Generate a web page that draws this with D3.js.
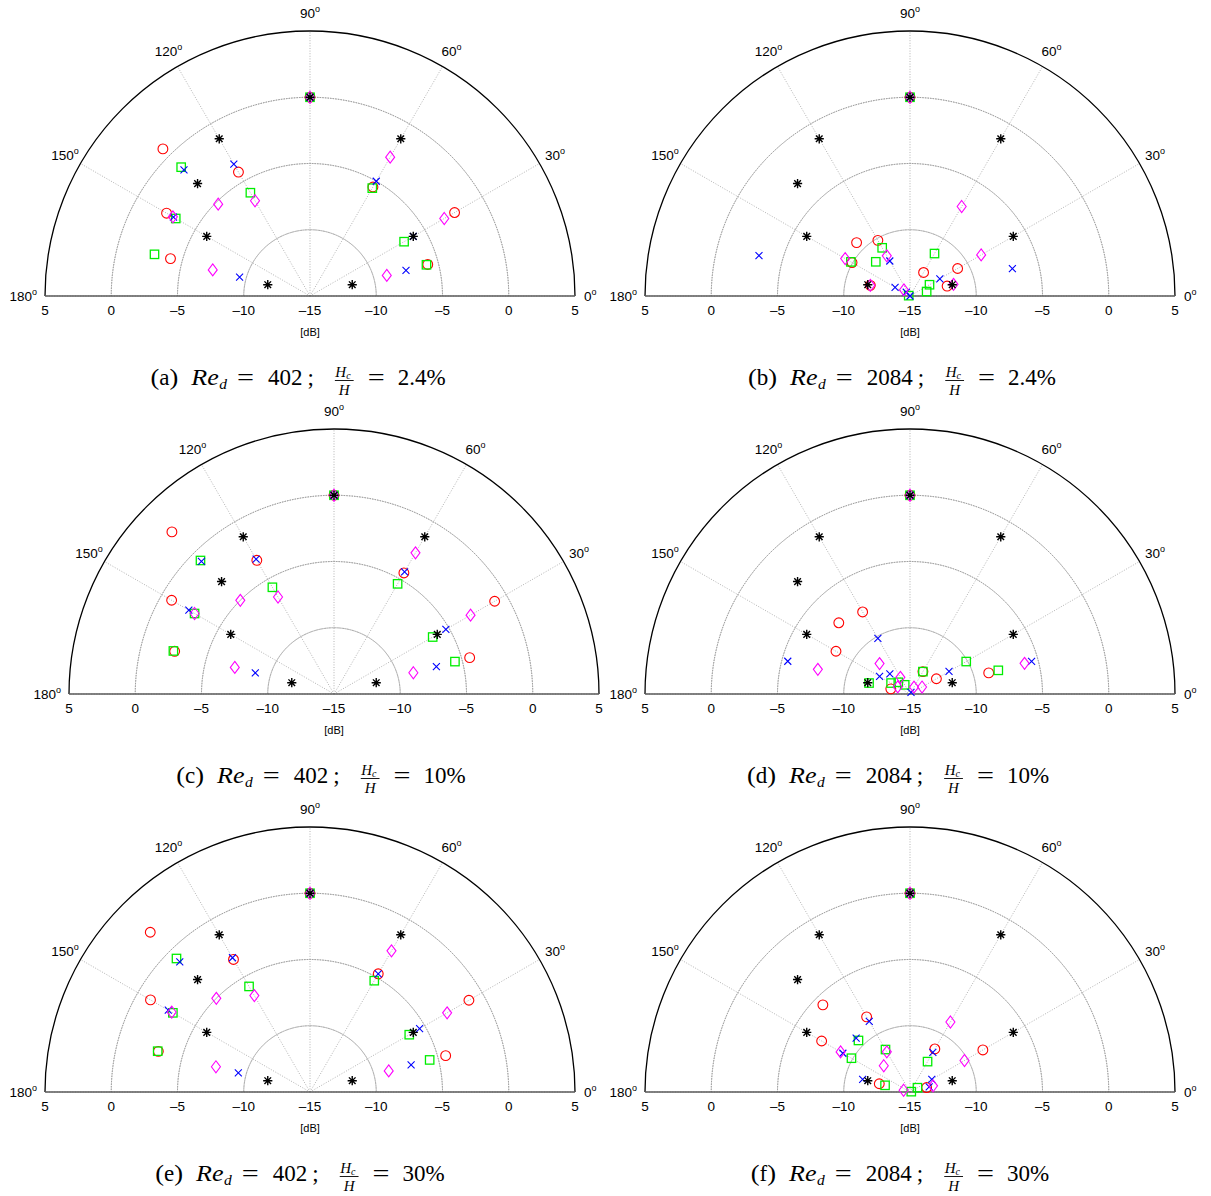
<!DOCTYPE html>
<html>
<head>
<meta charset="utf-8">
<script src="https://cdn.jsdelivr.net/npm/d3@7"></script>
<style>
  html, body { margin: 0; padding: 0; background: #fff; }
  svg { display: block; }
</style>
</head>
<body>
<svg id="chart" width="1211" height="1196"></svg>
<script>
// ---------------- DATA ----------------
const angles = [15, 30, 60, 90, 120, 135, 150, 165];           // measurement angles (deg)
const gridAngles = [0, 30, 60, 90, 120, 150, 180];              // spokes / angle labels
const gridRings = [-10, -5, 0];                                  // dotted rings (dB)
const rMin = -15, rMax = 5;
const tickValues = [5, 0, -5, -10, -15, -10, -5, 0, 5];
const tickSides  = [-1, -1, -1, -1, 0, 1, 1, 1, 1];
const tickLabels = ["5", "0", "\u20135", "\u201310", "\u201315", "\u201310", "\u20135", "0", "5"];

// reference (black asterisks), identical in every panel
const refLevels = [-11.7, -6.0, -1.3, 0, -1.3, -3.0, -6.0, -11.7];

// panel (a) Re_d = 402, Hc/H = 2.4%
const aRed     = [-5.8, -2.4, -5.5, 0, -4.2, 0.7, -2.5, -4.1];
const aGreen   = [-5.9, -6.8, -5.6, 0, -6.0, -1.25, -3.3, -2.85];
const aBlue    = [-7.5, -6.0, -5.0, 0, -3.5, -1.55, -3.1, -9.5];
const aMagenta = [-9.0, -3.3, -2.9, 0, -6.7, -5.2, -3.05, -7.4];
// panel (b) Re_d = 2084, Hc/H = 2.4%
const bRed     = [-12.1, -10.85, -12.95, 0, -10.15, -9.3, -9.95, -11.9];
const bGreen   = [-13.7, -13.3, -11.3, 0, -10.8, -11.35, -9.85, -14.9];
const bBlue    = [-7.0, -12.4, -15.0, 0, -11.95, -14.6, -13.7, -3.2];
const bMagenta = [-11.6, -8.8, -7.2, 0, -11.5, -14.35, -9.35, -11.9];
// panel (c) Re_d = 402, Hc/H = 10%
const cRed     = [-4.4, -1.0, -4.45, 0, -3.35, 2.3, -0.85, -2.55];
const cGreen   = [-5.55, -6.4, -5.4, 0, -5.7, -0.75, -2.85, -2.45];
const cBlue    = [-7.0, -5.25, -4.35, 0, -3.25, -0.85, -2.35, -8.85];
const cMagenta = [-8.8, -3.1, -2.7, 0, -6.55, -5.0, -2.85, -7.25];
// panel (d) Re_d = 2084, Hc/H = 10%
const dRed     = [-8.85, -12.7, -13.05, 0, -7.85, -7.4, -8.55, -13.5];
const dGreen   = [-8.1, -10.1, -13.05, 0, -14.2, -13.75, -13.35, -11.8];
const dBlue    = [-5.5, -11.6, -14.85, 0, -10.15, -12.85, -12.35, -5.45];
const dMagenta = [-6.05, -13.95, -14.4, 0, -13.55, -11.75, -13.93, -7.8];
// panel (e) Re_d = 402, Hc/H = 30%
const eRed     = [-4.4, -1.15, -4.7, 0, -3.45, 2.05, -1.1, -3.15];
const eGreen   = [-5.65, -6.35, -5.3, 0, -5.8, -0.75, -3.05, -3.1];
const eBlue    = [-7.1, -5.45, -4.7, 0, -3.3, -1.1, -2.65, -9.4];
const eMagenta = [-8.85, -3.05, -2.7, 0, -6.6, -5.0, -2.95, -7.65];
// panel (f) Re_d = 2084, Hc/H = 30%
const fRed     = [-13.7, -8.65, -11.25, 0, -8.45, -5.7, -7.3, -12.6];
const fGreen   = [-14.9, -14.35, -12.35, 0, -11.3, -9.5, -9.9, -13.05];
const fBlue    = [-13.5, -13.1, -11.55, 0, -8.85, -9.25, -9.15, -11.3];
const fMagenta = [-13.2, -10.25, -8.9, 0, -11.5, -12.2, -8.95, -14.5];

const panelLetters = ["a", "b", "c", "d", "e", "f"];
const panelRe      = ["402", "2084", "402", "2084", "402", "2084"];
const panelPct     = ["2.4", "2.4", "10", "10", "30", "30"];
const panelSeries  = [
  [aRed, aGreen, aBlue, aMagenta],
  [bRed, bGreen, bBlue, bMagenta],
  [cRed, cGreen, cBlue, cMagenta],
  [dRed, dGreen, dBlue, dMagenta],
  [eRed, eGreen, eBlue, eMagenta],
  [fRed, fGreen, fBlue, fMagenta]
];

// ---------------- LAYOUT ----------------
const R = 265;
const layout = [
  {cx: 310, cy: 296, capX: 298, capY: 385, zeroLabel: true},
  {cx: 910, cy: 296, capX: 902, capY: 385, zeroLabel: true},
  {cx: 334, cy: 694, capX: 321, capY: 783, zeroLabel: false},  // hidden under (d) in the original
  {cx: 910, cy: 694, capX: 898, capY: 783, zeroLabel: true},
  {cx: 310, cy: 1092, capX: 300, capY: 1181, zeroLabel: true},
  {cx: 910, cy: 1092, capX: 900, capY: 1181, zeroLabel: true}
];
const seriesStyle = [
  {type: "circle",  color: "#ff0000"},
  {type: "square",  color: "#00ee00"},
  {type: "cross",   color: "#0000ff"},
  {type: "diamond", color: "#ff00ff"}
];
const sansFont = "'Liberation Sans', Arial, Helvetica, sans-serif";
const serifFont = "'Liberation Serif', 'Times New Roman', serif";

const svg = d3.select("#chart");
const rScale = d3.scaleLinear().domain([rMin, rMax]).range([0, R]);
const toRad = d => d * Math.PI / 180;
const px = (ang, v) => rScale(v) * Math.cos(toRad(ang));
const py = (ang, v) => -rScale(v) * Math.sin(toRad(ang));

function drawMarker(g, type, color, x, y) {
  if (type === "circle") {
    g.append("circle").attr("cx", x).attr("cy", y).attr("r", 4.9)
      .attr("fill", "none").attr("stroke", color).attr("stroke-width", 1.1);
  } else if (type === "square") {
    g.append("rect").attr("x", x - 4.2).attr("y", y - 4.2).attr("width", 8.4).attr("height", 8.4)
      .attr("fill", "none").attr("stroke", color).attr("stroke-width", 1.3);
  } else if (type === "cross") {
    const s = 3.5;
    g.append("path").attr("d", `M${x - s},${y - s}L${x + s},${y + s}M${x - s},${y + s}L${x + s},${y - s}`)
      .attr("stroke", color).attr("stroke-width", 1.1).attr("fill", "none");
  } else if (type === "diamond") {
    const w = 4.5, h = 6.0;
    g.append("path").attr("d", `M${x},${y - h}L${x + w},${y}L${x},${y + h}L${x - w},${y}Z`)
      .attr("fill", "none").attr("stroke", color).attr("stroke-width", 1.1);
  } else if (type === "asterisk") {
    const s = 4.6, d = s * 0.72;
    g.append("path").attr("d",
      `M${x},${y - s}L${x},${y + s}M${x - s},${y}L${x + s},${y}M${x - d},${y - d}L${x + d},${y + d}M${x - d},${y + d}L${x + d},${y - d}`)
      .attr("stroke", color).attr("stroke-width", 1.4).attr("fill", "none");
  }
}

function drawCaption(g, i, cx, by) {
  const cap = g.append("g");
  let x = 0;
  const put = (txt, size, italic, dy, gapAfter, len) => {
    const t = cap.append("text").attr("x", x).attr("y", by + dy)
      .attr("font-family", serifFont).attr("font-size", size)
      .attr("font-style", italic ? "italic" : "normal").attr("fill", "#000").text(txt);
    let w = t.node().getComputedTextLength();
    if (len) { t.attr("textLength", len).attr("lengthAdjust", "spacingAndGlyphs"); w = len; }
    x += w + gapAfter;
    return t;
  };
  put("(", 23, false, 0, 0, 8.8);
  put(panelLetters[i], 23, false, 0, 0);
  put(")", 23, false, 0, 13, 8.8);
  put("Re", 23, true, 0, 0.5, 27.5);
  put("d", 15.5, true, 4, 10);
  put("=", 23, false, 0, 14, 17);
  put(panelRe[i], 23, false, 0, 5);
  put(";", 23, false, 0, 21);
  // fraction H_c / H
  const fx = x;
  const num = cap.append("text").attr("x", fx + 0.5).attr("y", by - 8.5)
    .attr("font-family", serifFont).attr("font-size", 15).attr("font-style", "italic");
  num.append("tspan").text("H");
  num.append("tspan").attr("font-size", 10).attr("dy", 2).text("c");
  const numW = num.node().getComputedTextLength() + 1.5;
  const den = cap.append("text").attr("y", by + 9.5)
    .attr("font-family", serifFont).attr("font-size", 15).attr("font-style", "italic").text("H");
  const denW = den.node().getComputedTextLength();
  const fw = Math.max(numW, denW) + 2;
  den.attr("x", fx + (fw - denW) / 2);
  cap.append("line").attr("x1", fx).attr("x2", fx + fw).attr("y1", by - 4.5).attr("y2", by - 4.5)
    .attr("stroke", "#000").attr("stroke-width", 0.9);
  x = fx + fw + 14;
  put("=", 23, false, 0, 13, 17);
  put(`${panelPct[i]}%`, 23, false, 0, 0);
  const total = x;
  cap.attr("transform", `translate(${cx - total / 2},0)`);
}

layout.forEach((L, i) => {
  const g = svg.append("g").attr("transform", `translate(${L.cx},${L.cy})`);
  const grid = g.append("g");

  // dotted rings
  gridRings.forEach(v => {
    const r = rScale(v);
    grid.append("path")
      .attr("d", d3.arc()({innerRadius: r, outerRadius: r, startAngle: -Math.PI / 2, endAngle: Math.PI / 2}))
      .attr("fill", "none").attr("stroke", "#8c8c8c").attr("stroke-width", 1)
      .attr("stroke-dasharray", "1,1.6");
  });
  // spokes
  gridAngles.forEach(a => {
    grid.append("line").attr("x1", 0).attr("y1", 0)
      .attr("x2", px(a, rMax)).attr("y2", py(a, rMax))
      .attr("stroke", "#b4b4b4").attr("stroke-width", 1).attr("stroke-dasharray", "1,1.6");
  });
  // outer arc
  grid.append("path")
    .attr("d", d3.arc()({innerRadius: R, outerRadius: R, startAngle: -Math.PI / 2, endAngle: Math.PI / 2}))
    .attr("fill", "none").attr("stroke", "#000").attr("stroke-width", 1.3);
  // baseline
  grid.append("line").attr("x1", -R).attr("x2", R).attr("y1", 0).attr("y2", 0)
    .attr("stroke", "#5a5a5a").attr("stroke-width", 1.6);

  // radial tick labels
  tickValues.forEach((v, k) => {
    g.append("text").attr("x", tickSides[k] * rScale(v)).attr("y", 15)
      .attr("text-anchor", "middle").attr("dominant-baseline", "middle")
      .attr("font-family", sansFont).attr("font-size", 13.5).attr("fill", "#000")
      .text(tickLabels[k]);
  });
  g.append("text").attr("x", 0).attr("y", 37).attr("text-anchor", "middle")
    .attr("dominant-baseline", "middle")
    .attr("font-family", sansFont).attr("font-size", 11).attr("fill", "#000").text("[dB]");

  // angle labels
  gridAngles.forEach(a => {
    let t;
    if (a === 0) {
      if (!L.zeroLabel) return;
      t = g.append("text").attr("x", R + 9).attr("y", 5).attr("text-anchor", "start");
    } else if (a === 180) {
      t = g.append("text").attr("x", -R - 8).attr("y", 5).attr("text-anchor", "end");
    } else {
      const rr = R + 18;
      t = g.append("text").attr("x", rr * Math.cos(toRad(a))).attr("y", -rr * Math.sin(toRad(a)) + 5)
        .attr("text-anchor", "middle");
    }
    t.attr("font-family", sansFont).attr("font-size", 13.5).attr("fill", "#000");
    t.append("tspan").text(String(a));
    t.append("tspan").attr("font-size", 9).attr("dy", -6).text("o");
  });

  // series markers
  const marks = g.append("g");
  panelSeries[i].forEach((vals, s) => {
    const st = seriesStyle[s];
    vals.forEach((v, k) => drawMarker(marks, st.type, st.color, px(angles[k], v), py(angles[k], v)));
  });
  refLevels.forEach((v, k) => drawMarker(marks, "asterisk", "#000", px(angles[k], v), py(angles[k], v)));

  drawCaption(svg, i, L.capX, L.capY);
});
</script>
</body>
</html>
